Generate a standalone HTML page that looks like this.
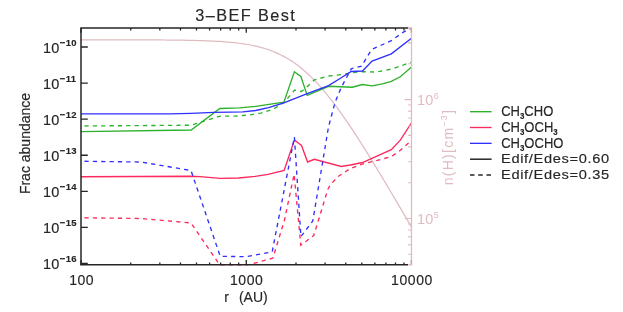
<!DOCTYPE html>
<html><head><meta charset="utf-8"><style>
html,body{margin:0;padding:0;background:#fff;}
svg{display:block;will-change:transform;opacity:0.999}
text{font-family:"Liberation Sans",sans-serif;fill:#262626;stroke:#262626;stroke-width:0.15px;}
.p{fill:#dfbcbf;stroke:none}
</style></head><body>
<svg width="623" height="312" viewBox="0 0 623 312">
<rect width="623" height="312" fill="#fff"/>
<defs><clipPath id="c"><rect x="81.0" y="28.0" width="330.5" height="237.60000000000002"/></clipPath></defs>
<g fill="none" stroke-linejoin="miter" stroke-miterlimit="3" clip-path="url(#c)">
<path d="M81.00,39.81 L83.78,39.81 L86.55,39.81 L89.33,39.81 L92.11,39.81 L94.89,39.81 L97.66,39.82 L100.44,39.82 L103.22,39.82 L106.00,39.82 L108.77,39.82 L111.55,39.83 L114.33,39.83 L117.11,39.83 L119.88,39.84 L122.66,39.84 L125.44,39.84 L128.21,39.85 L130.99,39.85 L133.77,39.86 L136.55,39.87 L139.32,39.88 L142.10,39.88 L144.88,39.89 L147.66,39.90 L150.43,39.92 L153.21,39.93 L155.99,39.94 L158.76,39.96 L161.54,39.98 L164.32,40.00 L167.10,40.02 L169.87,40.04 L172.65,40.07 L175.43,40.10 L178.21,40.14 L180.98,40.17 L183.76,40.22 L186.54,40.26 L189.32,40.32 L192.09,40.37 L194.87,40.44 L197.65,40.51 L200.42,40.59 L203.20,40.68 L205.98,40.78 L208.76,40.89 L211.53,41.01 L214.31,41.14 L217.09,41.29 L219.87,41.46 L222.64,41.64 L225.42,41.85 L228.20,42.08 L230.97,42.33 L233.75,42.60 L236.53,42.91 L239.31,43.25 L242.08,43.63 L244.86,44.04 L247.64,44.50 L250.42,45.00 L253.19,45.56 L255.97,46.16 L258.75,46.83 L261.53,47.57 L264.30,48.37 L267.08,49.25 L269.86,50.20 L272.63,51.24 L275.41,52.38 L278.19,53.61 L280.97,54.94 L283.74,56.37 L286.52,57.92 L289.30,59.58 L292.08,61.36 L294.85,63.27 L297.63,65.30 L300.41,67.46 L303.18,69.75 L305.96,72.17 L308.74,74.72 L311.52,77.39 L314.29,80.20 L317.07,83.13 L319.85,86.19 L322.63,89.37 L325.40,92.66 L328.18,96.06 L330.96,99.57 L333.74,103.19 L336.51,106.90 L339.29,110.70 L342.07,114.59 L344.84,118.56 L347.62,122.60 L350.40,126.71 L353.18,130.89 L355.95,135.13 L358.73,139.43 L361.51,143.78 L364.29,148.17 L367.06,152.61 L369.84,157.08 L372.62,161.60 L375.39,166.14 L378.17,170.72 L380.95,175.32 L383.73,179.95 L386.50,184.60 L389.28,189.27 L392.06,193.96 L394.84,198.66 L397.61,203.38 L400.39,208.12 L403.17,212.86 L405.95,217.62 L408.72,222.39 L411.50,227.17" stroke="#dfbcbf" stroke-width="1.25"/>
<path d="M81.00,131.70 L191.20,130.00 L219.80,108.50 L239.30,107.80 L255.70,106.40 L283.90,102.20 L294.40,71.80 L300.80,76.40 L307.20,95.30 L328.60,86.30 L352.20,87.20 L362.50,84.50 L372.10,85.80 L382.40,83.90 L391.30,81.30 L400.30,76.80 L411.50,67.00" stroke="#2cb22c" stroke-width="1.35"/>
<path d="M81.00,126.00 L191.20,125.20 L220.00,116.20 L236.00,116.10 L249.30,115.00 L260.80,113.10 L273.60,109.00 L283.90,102.60 L294.70,90.10 L301.40,91.50 L307.40,86.50 L314.30,79.90 L328.60,76.00 L343.90,74.30 L351.00,72.80 L362.50,71.70 L376.00,72.10 L391.30,69.10 L411.50,62.20" stroke="#2cb22c" stroke-width="1.35" stroke-dasharray="4.2 4.15" stroke-dashoffset="4.85"/>
<path d="M81.00,176.75 L191.00,176.30 L200.00,176.70 L220.50,178.40 L238.50,178.00 L255.20,176.40 L268.00,174.40 L284.10,170.40 L294.40,140.00 L301.50,145.40 L307.60,162.00 L314.30,159.30 L341.20,166.50 L350.30,165.00 L362.50,162.50 L391.30,149.60 L400.30,140.20 L411.50,122.80" stroke="#fd2a5e" stroke-width="1.35"/>
<path d="M81.00,217.75 L141.00,218.50 L191.00,223.00 L220.20,265.60 L246.50,265.30 L272.80,258.20 L284.50,220.00 L294.10,174.20 L300.80,245.20 L313.75,235.50 L327.90,189.20 L330.30,184.90 L338.00,176.60 L350.30,168.50 L362.50,164.10 L391.30,156.70 L400.30,150.30 L411.50,140.50" stroke="#fd2a5e" stroke-width="1.35" stroke-dasharray="4.2 4.15" stroke-dashoffset="4.85"/>
<path d="M81.00,113.80 L170.00,113.90 L191.00,113.30 L213.60,112.40 L230.00,112.10 L242.80,111.80 L255.70,110.50 L268.50,107.70 L283.90,102.80 L307.20,93.60 L328.60,85.60 L341.25,77.80 L351.25,71.50 L362.50,71.00 L372.10,61.00 L391.30,53.90 L411.50,38.30" stroke="#3030fd" stroke-width="1.35"/>
<path d="M81.00,161.25 L141.00,162.00 L191.00,170.50 L220.20,256.30 L246.50,256.70 L272.20,251.80 L294.40,137.00 L300.90,236.60 L312.80,221.00 L328.50,127.00 L335.00,102.50 L341.25,87.50 L351.25,68.75 L361.50,66.20 L371.50,49.60 L391.30,40.60 L404.20,31.60 L411.50,28.40" stroke="#3030fd" stroke-width="1.35" stroke-dasharray="4.2 4.15" stroke-dashoffset="4.85"/>
</g>
<g fill="none" stroke="#262626" stroke-width="1.5">
<path d="M81.0,264.8 V28.0 H408.0"/>
<path d="M80.25,264.8 H408.0"/>
<path d="M81.00,264.80 v-4.70 M81.00,28.00 v4.70 M130.75,264.80 v-2.40 M130.75,28.00 v2.40 M159.84,264.80 v-2.40 M159.84,28.00 v2.40 M180.49,264.80 v-2.40 M180.49,28.00 v2.40 M196.50,264.80 v-2.40 M196.50,28.00 v2.40 M209.59,264.80 v-2.40 M209.59,28.00 v2.40 M220.65,264.80 v-2.40 M220.65,28.00 v2.40 M230.24,264.80 v-2.40 M230.24,28.00 v2.40 M238.69,264.80 v-2.40 M238.69,28.00 v2.40 M246.25,264.80 v-4.70 M246.25,28.00 v4.70 M296.00,264.80 v-2.40 M296.00,28.00 v2.40 M325.09,264.80 v-2.40 M325.09,28.00 v2.40 M345.74,264.80 v-2.40 M345.74,28.00 v2.40 M361.75,264.80 v-2.40 M361.75,28.00 v2.40 M374.84,264.80 v-2.40 M374.84,28.00 v2.40 M385.90,264.80 v-2.40 M385.90,28.00 v2.40 M395.49,264.80 v-2.40 M395.49,28.00 v2.40 M403.94,264.80 v-2.40 M403.94,28.00 v2.40 M81.00,263.48 h6.8 M81.00,227.40 h6.8 M81.00,191.32 h6.8 M81.00,155.24 h6.8 M81.00,119.16 h6.8 M81.00,83.08 h6.8 M81.00,47.00 h6.8" stroke-width="1.3"/>
</g>
<g fill="none" stroke="#dfbcbf" stroke-width="1.3">
<path d="M408.0,28.0 H411.5 V264.8 H408.0"/>
<path d="M411.50,254.29 h-3.40 M411.50,244.88 h-3.40 M411.50,236.92 h-3.40 M411.50,230.02 h-3.40 M411.50,223.94 h-3.40 M411.50,218.50 h-6.80 M411.50,182.71 h-3.40 M411.50,161.77 h-3.40 M411.50,146.92 h-3.40 M411.50,135.39 h-3.40 M411.50,125.98 h-3.40 M411.50,118.02 h-3.40 M411.50,111.12 h-3.40 M411.50,105.04 h-3.40 M411.50,99.60 h-6.80 M411.50,63.81 h-3.40 M411.50,42.87 h-3.40 M411.50,28.02 h-3.40" stroke-width="1.1"/>
<path d="M411.3,264.8 v-4.7 M411.3,28.0 v4.7" stroke="#d3a9ae" stroke-width="1.6"/>
</g>
<text x="245.8" y="20.7" font-size="16.3" text-anchor="middle" letter-spacing="1.4">3&#8211;BEF Best</text>
<text x="43" y="269.1" font-size="14.5" letter-spacing="0.3">10<tspan font-size="9.5" dy="-6.8" letter-spacing="0.4" font-weight="bold">&#8722;16</tspan></text>
<text x="43" y="233.0" font-size="14.5" letter-spacing="0.3">10<tspan font-size="9.5" dy="-6.8" letter-spacing="0.4" font-weight="bold">&#8722;15</tspan></text>
<text x="43" y="196.9" font-size="14.5" letter-spacing="0.3">10<tspan font-size="9.5" dy="-6.8" letter-spacing="0.4" font-weight="bold">&#8722;14</tspan></text>
<text x="43" y="160.8" font-size="14.5" letter-spacing="0.3">10<tspan font-size="9.5" dy="-6.8" letter-spacing="0.4" font-weight="bold">&#8722;13</tspan></text>
<text x="43" y="124.8" font-size="14.5" letter-spacing="0.3">10<tspan font-size="9.5" dy="-6.8" letter-spacing="0.4" font-weight="bold">&#8722;12</tspan></text>
<text x="43" y="88.7" font-size="14.5" letter-spacing="0.3">10<tspan font-size="9.5" dy="-6.8" letter-spacing="0.4" font-weight="bold">&#8722;11</tspan></text>
<text x="43" y="52.6" font-size="14.5" letter-spacing="0.3">10<tspan font-size="9.5" dy="-6.8" letter-spacing="0.4" font-weight="bold">&#8722;10</tspan></text>
<text x="81.7" y="285.2" font-size="14" text-anchor="middle" letter-spacing="0.5">100</text>
<text x="246.7" y="285.2" font-size="14" text-anchor="middle" letter-spacing="0.6">1000</text>
<text x="412" y="285.2" font-size="14" text-anchor="middle" letter-spacing="0.6">10000</text>
<text x="246" y="302" font-size="14" text-anchor="middle" word-spacing="6">r (AU)</text>
<text transform="translate(30,143.5) rotate(-90)" font-size="14" text-anchor="middle">Frac abundance</text>
<text class="p" x="417" y="105.2" font-size="14.5" letter-spacing="0.3">10<tspan font-size="9" dy="-6.5">6</tspan></text>
<text class="p" x="417" y="224.2" font-size="14.5" letter-spacing="0.3">10<tspan font-size="9" dy="-6.5">5</tspan></text>
<text class="p" transform="translate(453,147) rotate(-90)" font-size="14" text-anchor="middle" letter-spacing="1.25">n(H)[cm<tspan font-size="9" dy="-6">&#8722;3</tspan><tspan dy="6">]</tspan></text>
<g fill="none" stroke-width="1.35">
<path d="M470,111.7 H491.6" stroke="#2cb22c"/>
<path d="M470,127.5 H491.6" stroke="#fd2a5e"/>
<path d="M470,143.35 H491.6" stroke="#3030fd"/>
<path d="M470,159.2 H491.6" stroke="#262626" stroke-width="1.5"/>
<path d="M470,175 H491.6" stroke="#262626" stroke-width="1.5" stroke-dasharray="4.5 3.75"/>
</g>
<text transform="translate(501.2,116) scale(0.93,1)" font-size="14">CH<tspan font-size="8.5" dy="3.2" font-weight="bold">3</tspan><tspan dy="-3.2">CHO</tspan></text>
<text transform="translate(501.2,131.8) scale(0.93,1)" font-size="14">CH<tspan font-size="8.5" dy="3.2" font-weight="bold">3</tspan><tspan dy="-3.2">OCH</tspan><tspan font-size="8.5" dy="3.2" font-weight="bold">3</tspan></text>
<text transform="translate(501.2,147.6) scale(0.93,1)" font-size="14">CH<tspan font-size="8.5" dy="3.2" font-weight="bold">3</tspan><tspan dy="-3.2">OCHO</tspan></text>
<text transform="translate(501,163.3) scale(1.07,1)" font-size="13.7" letter-spacing="0.6">Edif/Edes=0.60</text>
<text transform="translate(501,179) scale(1.07,1)" font-size="13.7" letter-spacing="0.6">Edif/Edes=0.35</text>
</svg>
</body></html>
